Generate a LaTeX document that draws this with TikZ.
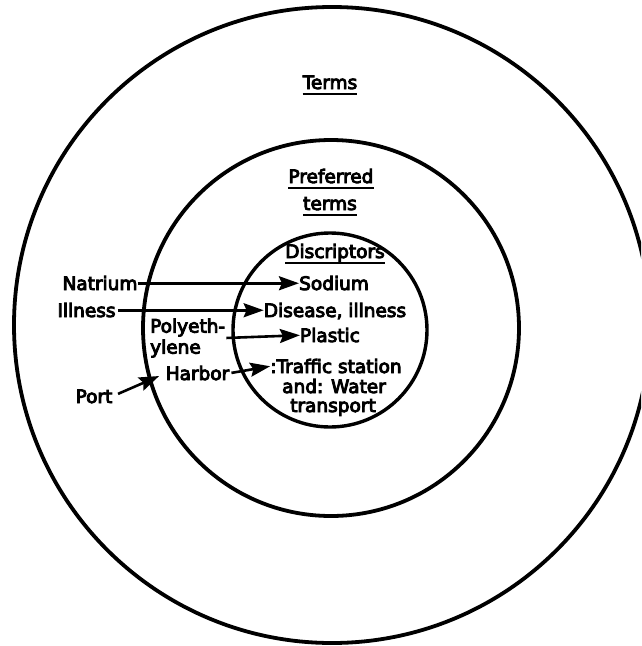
\documentclass[tikz,border=0pt]{standalone}
\usepackage{fontspec}
\font\lblraw="DejaVu Sans:embolden=5" at 18.5pt
\usetikzlibrary{arrows.meta}

\tikzset{
  ring/.style={draw=black, line width=3.8pt},
  lbl/.style={inner sep=0pt, anchor=base, text height=13.5pt, text depth=0pt,
              font=\lblraw},
  block/.style={inner sep=0pt, align=left,
              font={\lblraw\baselineskip=21pt}},
  arr/.style={draw=black, line width=2.6pt,
              -{Stealth[length=20pt, width=14pt, inset=3pt]}},
  uline/.style={draw=black, line width=2pt}
}

\begin{document}
\begin{tikzpicture}[x=1pt, y=-1pt]
  \useasboundingbox (0,0) rectangle (641,646);
  \clip (0,0) rectangle (641,646);

  % three nested sets
  \draw[ring] (332,325) circle[radius=318pt];
  \draw[ring] (331,328) circle[radius=188pt];
  \draw[ring, line width=3.4pt] (330,330) circle[radius=97pt];

  % headings
  \node[lbl] (terms) at (330,89) {Terms};
  \node[lbl] (pref1) at (331,183) {Preferred};
  \node[lbl] (pref2) at (330,210) {terms};
  \node[lbl] (desc) at (335,258) {Discriptors};
  \foreach \n in {terms,pref1,pref2}
    \draw[uline] ([yshift=-4.5pt]\n.base west) -- ([yshift=-4.5pt]\n.base east);
  \draw[uline] ([yshift=-5pt]desc.base west) -- ([yshift=-5pt]desc.base east);

  % entry terms
  \node[lbl] (natrium) at (100,290) {Natrium};
  \node[lbl] (illness) at (86.5,317) {Illness};
  \node[block, anchor=west] (poly) at (150,338) {Polyeth-\\ylene};
  \node[lbl] (harbor) at (197.5,380) {Harbor};
  \node[lbl] (port) at (94,403) {Port};

  % descriptors
  \node[lbl] (sodium) at (334,290) {Sodium};
  \node[lbl] (disease) at (335,317) {Disease, illness};
  \node[lbl] (plastic) at (330,342) {Plastic};
  \node[lbl] (traffic) at (336,373) {:Traffic station};
  \node[lbl] (water) at (334,393) {and: Water};
  \node[lbl] (transport) at (333,412) {transport};

  % references
  \draw[arr] (natrium.east) -- (sodium.west);
  \draw[arr, shorten <=2pt] (illness.east) -- (disease.west);
  \draw[arr, shorten <=1pt] (poly.east) -- (plastic.west);
  \draw[arr, shorten <=2pt] (harbor.east) -- (traffic.west);
  \draw[arr, shorten <=6pt, shorten >=7pt] (port.east) -- (harbor.west);
\end{tikzpicture}
\end{document}
